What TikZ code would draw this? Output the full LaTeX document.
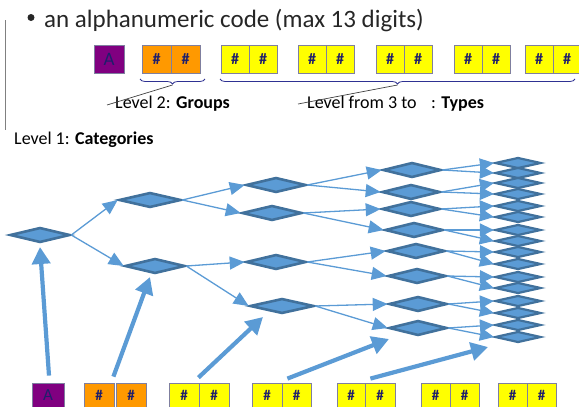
\documentclass[tikz,border=0pt]{standalone}
\usepackage{fontspec}
\setmainfont{Carlito}
\usetikzlibrary{arrows.meta,shapes.geometric,decorations.pathreplacing,calc}
\definecolor{dfill}{HTML}{5B9BD5}
\definecolor{dline}{HTML}{41719C}
\definecolor{navy}{HTML}{1F1F6B}
\definecolor{purp}{HTML}{800080}
\definecolor{orng}{HTML}{FF9900}
\definecolor{yell}{HTML}{FFFF00}
\definecolor{bxline}{HTML}{7F7F9F}
\definecolor{brc}{HTML}{2E3192}
\begin{document}
\begin{tikzpicture}[x=1pt,y=-1pt,
  dia/.style={diamond,draw=dline,fill=dfill,line width=2.6pt,inner sep=0pt,minimum width=60pt,minimum height=15pt},
  sdia/.style={diamond,draw=dline,fill=dfill,line width=2.2pt,inner sep=0pt,minimum width=46pt,minimum height=11pt},
  link/.style={draw=dfill,line width=1.3pt,-{Triangle[length=15pt,width=13pt]}},
  big/.style={draw=dfill,line width=4.2pt,-{Triangle[length=17pt,width=18pt]}},
  tbox/.style={draw=bxline,line width=0.8pt,inner sep=0pt,minimum width=28pt,minimum height=28pt,text=navy,font=\fontsize{16}{18}\selectfont\bfseries},
  bbox/.style={draw=bxline,line width=0.8pt,inner sep=0pt,minimum width=30pt,minimum height=24pt,text=navy,font=\fontsize{15}{17}\selectfont\bfseries},
  lvl/.style={anchor=west,inner sep=0pt,font=\fontsize{18}{21}\selectfont},
  brace/.style={draw=brc,line width=0.8pt,decorate,decoration={brace,mirror,amplitude=5pt}},
  lead/.style={draw=black!75,line width=0.7pt}
]
\useasboundingbox (0,0) rectangle (579,407);

% title
\draw[gray,line width=1.5pt] (5.5,20) -- (5.5,130);
\node[circle,fill=black!85,minimum size=7pt,inner sep=0pt] (bul) at (31,17.5) {};
\node[anchor=base west,inner sep=0pt,text=black!85,font=\fontsize{25}{28}\selectfont] (title) at (44,27) {an alphanumeric code (max 13 digits)};

% top code boxes
\node[tbox,fill=purp,minimum width=30pt,font=\fontsize{19}{21}\selectfont] (tA) at (109,59) {A};
\node[tbox,fill=orng,minimum width=29pt] (tO1) at (156.5,59) {\#};
\node[tbox,fill=orng,minimum width=29pt] (tO2) at (185.5,59) {\#};
\foreach \c/\n in {235/1,312/2,390/3,468/4,539/5}{
  \node[tbox,fill=yell] (tY\n a) at (\c,59) {\#};
  \node[tbox,fill=yell] (tY\n b) at (\c+28,59) {\#};
}

% braces and level labels
\draw[brace] (140,79) -- (205,79);
\draw[brace] (220,79) -- (575,79);
\coordinate (bt1) at (172.5,85);
\coordinate (bt2) at (397.5,85);
\node[lvl] (lv2) at (115,104) {Level 2: \textbf{Groups}};
\node[lvl] (lv3) at (307,104) {Level from 3 to\hspace{0.8em}: \textbf{Types}};
\node[lvl] (lv1) at (14,140) {Level 1: \textbf{Categories}};
\draw[lead] (bt1) -- ($(lv2.west)+(-8,1)$);
\draw[lead] (bt2) -- ($(lv3.west)+(-9,0)$);

% diamonds
\node[dia] (l1) at (40,235) {};
\node[dia,minimum width=62pt] (l2a) at (150,200) {};
\node[dia,minimum width=60pt] (l2b) at (155,266) {};
\node[dia] (l3a) at (276,185) {};
\node[dia] (l3b) at (272,213) {};
\node[dia] (l3c) at (276,262) {};
\node[dia,minimum width=64pt] (l3d) at (282,306) {};
\foreach \n/\x/\y in {1/412/170,2/411/192,3/411/209,4/414/230,5/416/251,6/417/276,7/418/304,8/418/328}{
  \node[dia,minimum width=58pt] (l4\n) at (\x,\y) {};
}
\foreach \n/\y in {1/163,2/173,3/183,4/194,5/206,6/217,7/230,8/241,9/252,10/264,11/277,12/288,13/301,14/313,15/325,16/337}{
  \node[sdia] (l5\n) at (518,\y) {};
}

% links
\draw[link] (l1.east) -- (l2a.west);
\draw[link] (l1.east) -- (l2b.west);
\draw[link] (l2a.east) -- (l3a.west);
\draw[link] (l2a.east) -- (l3b.west);
\draw[link] (l2b.east) -- (l3c.west);
\draw[link] (l2b.east) -- (l3d.west);
\draw[link] (l3a.east) -- (l41.west);
\draw[link] (l3a.east) -- (l42.west);
\draw[link] (l3b.east) -- (l43.west);
\draw[link] (l3b.east) -- (l44.west);
\draw[link] (l3c.east) -- (l45.west);
\draw[link] (l3c.east) -- (l46.west);
\draw[link] (l3d.east) -- (l47.west);
\draw[link] (l3d.east) -- (l48.west);
\foreach \p in {1,...,8}{
  \pgfmathtruncatemacro{\ca}{2*\p-1}
  \pgfmathtruncatemacro{\cb}{2*\p}
  \draw[link,-{Triangle[length=14pt,width=13pt]}] (l4\p.east) -- (l5\ca.west);
  \draw[link,-{Triangle[length=14pt,width=13pt]}] (l4\p.east) -- (l5\cb.west);
}

% bottom code boxes
\node[bbox,fill=purp,minimum width=32pt,font=\fontsize{17}{19}\selectfont] (bA) at (48,395) {A};
\node[bbox,fill=orng] (bO1) at (99,395) {\#};
\node[bbox,fill=orng] (bO2) at (131,395) {\#};
\node[bbox,fill=yell] (bY1a) at (184,395) {\#};
\node[bbox,fill=yell] (bY1b) at (214,395) {\#};
\node[bbox,fill=yell] (bY2a) at (267,395) {\#};
\node[bbox,fill=yell,minimum width=29pt] (bY2b) at (296.5,395) {\#};
\node[bbox,fill=yell,minimum width=28pt] (bY3a) at (351,395) {\#};
\node[bbox,fill=yell] (bY3b) at (380,395) {\#};
\node[bbox,fill=yell,minimum width=29pt] (bY4a) at (435.5,395) {\#};
\node[bbox,fill=yell,minimum width=29pt] (bY4b) at (464.5,395) {\#};
\node[bbox,fill=yell,minimum width=29pt] (bY5a) at (512.5,395) {\#};
\node[bbox,fill=yell,minimum width=29pt] (bY5b) at (541.5,395) {\#};

% level pointers
\coordinate (e1) at (40,247);
\coordinate (e2) at (150,277);
\coordinate (e3) at (263,317);
\coordinate (e4) at (389,339);
\coordinate (e5) at (488,347);
\draw[big] ($(bA.north)+(1,-7)$) -- (e1);
\draw[big] ($(bO1.north east)+(-1,-6)$) -- (e2);
\draw[big] ($(bY1a.north east)+(-1,-5)$) -- (e3);
\draw[big] ($(bY2a.north east)+(5,-4)$) -- (e4);
\draw[big] ($(bY3a.north east)+(5,-4)$) -- (e5);
\end{tikzpicture}
\end{document}
